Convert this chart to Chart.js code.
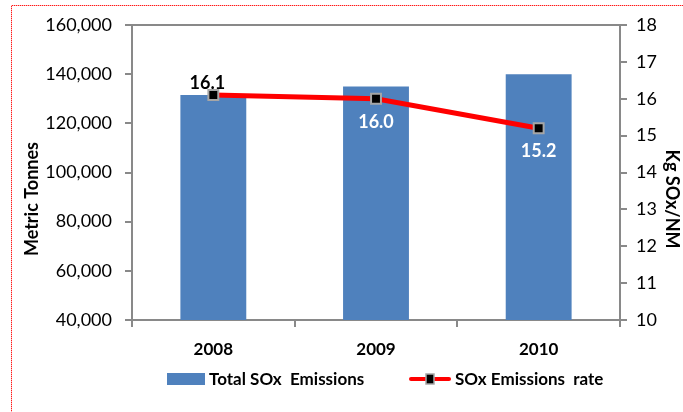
<!DOCTYPE html>
<html>
<head>
<meta charset="utf-8">
<script src="https://cdn.jsdelivr.net/npm/chart.js@4.4.1/dist/chart.umd.min.js"></script>
<style>
  html, body { margin: 0; padding: 0; background: #fff; }
  #wrap { width: 683px; height: 412px; }
</style>
</head>
<body>
<div id="wrap"><canvas id="c" width="683" height="412"></canvas></div>
<script>
// Years on the category axis
const years = ['2008', '2009', '2010'];
// Total SOx emissions, metric tonnes
const totalEmissions = [131500, 135000, 140000];
// SOx emission rate, kg SOx per NM
const emissionRate = [16.1, 16.0, 15.2];
// Where each rate label sits relative to its point
const rateLabelPlacement = ['above', 'below', 'below'];

const barLabel = 'Total SOx  Emissions';
const lineLabel = 'SOx Emissions  rate';
const leftTitle = 'Metric Tonnes';
const rightTitle = 'Kg SOx/NM';

const AXIS_GREY = '#898989';
const BAR_BLUE = '#4F81BD';
const LINE_RED = '#FF0000';
const FONT = 'Lato, "DejaVu Sans", sans-serif';

Chart.defaults.font.family = FONT;
Chart.defaults.color = '#000';

// Dotted red frame along the left and top edges, pixel by pixel
function drawDottedFrame(ctx, w, h) {
  const fx = 11, fy = 5;
  for (let y = fy; y < h; y++) {
    ctx.fillStyle = (y % 2 === 0) ? '#ff1a1a' : '#ffb3b3';
    ctx.fillRect(fx, y, 1, 1);
  }
  for (let x = fx; x < w; x++) {
    ctx.fillStyle = (x % 2 === 0) ? '#ff1a1a' : '#ffb3b3';
    ctx.fillRect(x, fy, 1, 1);
  }
}

// Frame, plot-area top edge, axis titles and legend
const decorations = {
  id: 'decorations',
  beforeDraw(chart) {
    const ctx = chart.ctx;
    ctx.save();
    ctx.fillStyle = '#fff';
    ctx.fillRect(0, 0, chart.width, chart.height);
    drawDottedFrame(ctx, chart.width, chart.height);
    ctx.restore();
  },
  afterDraw(chart) {
    const ctx = chart.ctx;
    const a = chart.chartArea;
    ctx.save();
    // top edge of plot area
    ctx.strokeStyle = AXIS_GREY;
    ctx.lineWidth = 2;
    ctx.beginPath();
    ctx.moveTo(a.left, a.top);
    ctx.lineTo(a.right, a.top);
    ctx.stroke();

    // axis titles
    ctx.fillStyle = '#000';
    ctx.font = 'bold 18px ' + FONT;
    ctx.textAlign = 'center';
    ctx.textBaseline = 'middle';
    const midY = a.top + (a.bottom - a.top) * 0.59;
    ctx.save();
    ctx.translate(32, midY);
    ctx.rotate(-Math.PI / 2);
    ctx.fillText(leftTitle, 0, 0);
    ctx.restore();
    ctx.save();
    ctx.translate(672, midY);
    ctx.rotate(Math.PI / 2);
    ctx.fillText(rightTitle, 0, 0);
    ctx.restore();

    // legend
    const ly = 379;
    ctx.fillStyle = BAR_BLUE;
    ctx.fillRect(167, ly - 6, 38, 12);
    ctx.fillStyle = '#000';
    ctx.font = 'bold 17px ' + FONT;
    ctx.textAlign = 'left';
    ctx.fillText(chart.data.datasets[1].label, 209, ly + 1);

    ctx.strokeStyle = LINE_RED;
    ctx.lineWidth = 4;
    ctx.lineCap = 'round';
    ctx.beginPath();
    ctx.moveTo(411, ly);
    ctx.lineTo(449, ly);
    ctx.stroke();
    ctx.fillStyle = '#000';
    ctx.strokeStyle = '#A6A6A6';
    ctx.lineWidth = 1.5;
    ctx.fillRect(426, ly - 5, 8, 10);
    ctx.strokeRect(426, ly - 5, 8, 10);
    ctx.fillStyle = '#000';
    ctx.fillText(chart.data.datasets[0].label, 455, ly + 1);
    ctx.restore();
  }
};

// Value labels on the rate line
const rateLabels = {
  id: 'rateLabels',
  afterDatasetsDraw(chart) {
    const ctx = chart.ctx;
    const meta = chart.getDatasetMeta(0);
    ctx.save();
    ctx.font = 'bold 18px ' + FONT;
    ctx.textAlign = 'center';
    ctx.textBaseline = 'middle';
    meta.data.forEach((pt, i) => {
      const text = emissionRate[i].toFixed(1);
      if (rateLabelPlacement[i] === 'above') {
        ctx.fillStyle = '#000';
        ctx.fillText(text, pt.x - 6, pt.y - 12);
      } else {
        ctx.fillStyle = '#fff';
        ctx.fillText(text, pt.x, pt.y + 23);
      }
    });
    ctx.restore();
  }
};

new Chart(document.getElementById('c'), {
  data: {
    labels: years,
    datasets: [
      {
        type: 'line',
        label: lineLabel,
        data: emissionRate,
        yAxisID: 'y1',
        order: 0,
        borderColor: LINE_RED,
        borderWidth: 5,
        tension: 0,
        pointStyle: 'rect',
        pointRadius: 7,
        pointBackgroundColor: '#000',
        pointBorderColor: '#A6A6A6',
        pointBorderWidth: 2
      },
      {
        type: 'bar',
        label: barLabel,
        data: totalEmissions,
        yAxisID: 'y',
        order: 1,
        backgroundColor: BAR_BLUE,
        barPercentage: 0.405,
        categoryPercentage: 1
      }
    ]
  },
  options: {
    responsive: false,
    animation: false,
    layout: { padding: { top: 25, left: 0, right: 0, bottom: 0 } },
    plugins: {
      legend: { display: false },
      tooltip: { enabled: false }
    },
    scales: {
      x: {
        afterFit: s => { s.height = 92; },
        grid: {
          offset: true,
          drawOnChartArea: false,
          drawTicks: true,
          tickLength: 7,
          color: AXIS_GREY,
          lineWidth: 2
        },
        border: { display: true, color: AXIS_GREY, width: 2 },
        ticks: {
          font: { size: 17, weight: 'bold' },
          color: '#000',
          padding: 12
        }
      },
      y: {
        position: 'left',
        min: 40000,
        max: 160000,
        afterFit: s => { s.width = 132; },
        grid: {
          drawOnChartArea: false,
          drawTicks: true,
          tickLength: 7,
          color: AXIS_GREY,
          lineWidth: 2
        },
        border: { display: true, color: AXIS_GREY, width: 2 },
        ticks: {
          stepSize: 20000,
          font: { size: 18 },
          color: '#000',
          padding: 13,
          callback: v => v.toLocaleString('en-US')
        }
      },
      y1: {
        position: 'right',
        min: 10,
        max: 18,
        afterFit: s => { s.width = 63; },
        grid: {
          drawOnChartArea: false,
          drawTicks: true,
          tickLength: 7,
          color: AXIS_GREY,
          lineWidth: 2
        },
        border: { display: true, color: AXIS_GREY, width: 2 },
        ticks: {
          stepSize: 1,
          font: { size: 18 },
          color: '#000',
          padding: 9
        }
      }
    }
  },
  plugins: [decorations, rateLabels]
});
</script>
</body>
</html>
